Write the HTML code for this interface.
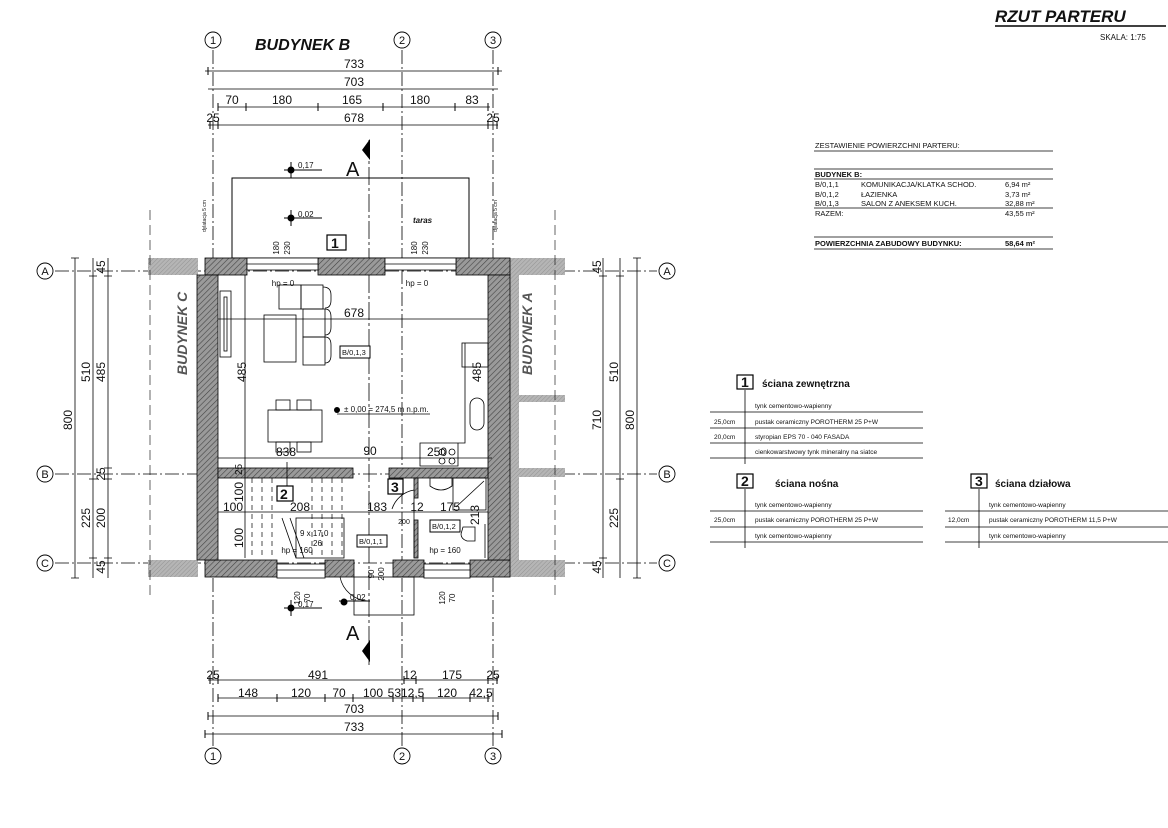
<!DOCTYPE html>
<html><head><meta charset="utf-8"><style>
html,body{margin:0;padding:0;background:#fff;width:1168px;height:828px;overflow:hidden}
svg{display:block}
text{font-family:"Liberation Sans",sans-serif;fill:#111}
</style></head><body>
<svg width="1168" height="828" viewBox="0 0 1168 828" xmlns="http://www.w3.org/2000/svg">
<defs>
<pattern id="h" width="4" height="4" patternUnits="userSpaceOnUse" patternTransform="rotate(45)">
<rect width="4" height="4" fill="#9a9a9a"/><line x1="0" y1="0" x2="0" y2="4" stroke="#444" stroke-width="1.2"/></pattern>
<pattern id="g" width="3" height="3" patternUnits="userSpaceOnUse" patternTransform="rotate(45)">
<rect width="3" height="3" fill="#b5b5b5"/><line x1="0" y1="0" x2="0" y2="3" stroke="#8a8a8a" stroke-width="0.8"/></pattern>
</defs>

<!-- titles -->
<text x="995" y="22" font-size="17" font-weight="bold" font-style="italic">RZUT PARTERU</text>
<line x1="995" y1="26" x2="1166" y2="26" stroke="#000" stroke-width="1.5"/>
<text x="1100" y="40" font-size="8">SKALA: 1:75</text>
<text x="255" y="50" font-size="16" font-weight="bold" font-style="italic">BUDYNEK B</text>

<!-- axis lines -->
<g stroke="#000" stroke-width="0.8" stroke-dasharray="14,3,2,3" fill="none">
<line x1="213" y1="50" x2="213" y2="746"/>
<line x1="402" y1="50" x2="402" y2="746"/>
<line x1="493" y1="50" x2="493" y2="746"/>
<line x1="55" y1="271" x2="657" y2="271"/>
<line x1="55" y1="474" x2="657" y2="474"/>
<line x1="55" y1="563" x2="657" y2="563"/>
<line x1="369" y1="140" x2="369" y2="665" stroke-dasharray="18,3,3,3"/>
</g>
<g fill="#fff" stroke="#000" stroke-width="0.9">
<circle cx="213" cy="40" r="8"/><circle cx="402" cy="40" r="8"/><circle cx="493" cy="40" r="8"/>
<circle cx="213" cy="756" r="8"/><circle cx="402" cy="756" r="8"/><circle cx="493" cy="756" r="8"/>
<circle cx="45" cy="271" r="8"/><circle cx="45" cy="474" r="8"/><circle cx="45" cy="563" r="8"/>
<circle cx="667" cy="271" r="8"/><circle cx="667" cy="474" r="8"/><circle cx="667" cy="563" r="8"/>
</g>
<g font-size="11" text-anchor="middle">
<text x="213" y="44">1</text><text x="402" y="44">2</text><text x="493" y="44">3</text>
<text x="213" y="760">1</text><text x="402" y="760">2</text><text x="493" y="760">3</text>
<text x="45" y="275">A</text><text x="45" y="478">B</text><text x="45" y="567">C</text>
<text x="667" y="275">A</text><text x="667" y="478">B</text><text x="667" y="567">C</text>
</g>

<!-- top dimensions -->
<g stroke="#000" stroke-width="0.8">
<line x1="205" y1="71" x2="502" y2="71"/>
<line x1="208" y1="89" x2="498" y2="89"/>
<line x1="218" y1="107" x2="490" y2="107"/>
<line x1="208" y1="125" x2="498" y2="125"/>
<line x1="208" y1="680" x2="498" y2="680"/>
<line x1="218" y1="698" x2="490" y2="698"/>
<line x1="208" y1="716" x2="498" y2="716"/>
<line x1="205" y1="734" x2="502" y2="734"/>
</g>
<g stroke="#000" stroke-width="1">
<path d="M208 67v8M498 67v8M218 103v8M246 103v8M318 103v8M383 103v8M455 103v8M488 103v8M210 121v8M218 121v8M488 121v8M497 121v8"/>
<path d="M210 676v8M218 676v8M404 676v8M416 676v8M488 676v8M497 676v8M218 694v8M277 694v8M325 694v8M353 694v8M393 694v8M413 694v8M423 694v8M470 694v8M488 694v8M208 712v8M498 712v8M205 730v8M502 730v8"/>
</g>
<g font-size="12" text-anchor="middle">
<text x="354" y="68">733</text><text x="354" y="86">703</text>
<text x="232" y="104">70</text><text x="282" y="104">180</text><text x="352" y="104">165</text><text x="420" y="104">180</text><text x="472" y="104">83</text>
<text x="213" y="122">25</text><text x="354" y="122">678</text><text x="493" y="122">25</text>
<text x="213" y="679">25</text><text x="318" y="679">491</text><text x="410" y="679">12</text><text x="452" y="679">175</text><text x="493" y="679">25</text>
<text x="248" y="697">148</text><text x="301" y="697">120</text><text x="339" y="697">70</text><text x="373" y="697">100</text><text x="406" y="697">5312,5</text><text x="447" y="697">120</text><text x="481" y="697">42,5</text>
<text x="354" y="713">703</text><text x="354" y="731">733</text>
</g>

<!-- side dimensions -->
<g stroke="#000" stroke-width="0.8">
<line x1="75" y1="258" x2="75" y2="578"/><line x1="93" y1="258" x2="93" y2="578"/><line x1="108" y1="258" x2="108" y2="578"/>
<line x1="603" y1="258" x2="603" y2="578"/><line x1="620" y1="258" x2="620" y2="578"/><line x1="637" y1="258" x2="637" y2="578"/>
<path d="M89 276h8M104 276h8M104 468h8M104 479h8M89 479h8M104 558h8M89 558h8M71 258h8M71 578h8M599 276h8M616 276h8M599 558h8M616 479h8M633 258h8M633 578h8"/>
</g>
<g font-size="12" text-anchor="middle">
<text transform="translate(72,420) rotate(-90)">800</text>
<text transform="translate(90,372) rotate(-90)">510</text>
<text transform="translate(105,372) rotate(-90)">485</text>
<text transform="translate(105,267) rotate(-90)">45</text>
<text transform="translate(105,474) rotate(-90)">25</text>
<text transform="translate(90,518) rotate(-90)">225</text>
<text transform="translate(105,518) rotate(-90)">200</text>
<text transform="translate(105,567) rotate(-90)">45</text>
<text transform="translate(601,267) rotate(-90)">45</text>
<text transform="translate(601,420) rotate(-90)">710</text>
<text transform="translate(618,372) rotate(-90)">510</text>
<text transform="translate(634,420) rotate(-90)">800</text>
<text transform="translate(618,518) rotate(-90)">225</text>
<text transform="translate(601,567) rotate(-90)">45</text>
</g>

<!-- terrace -->
<rect x="232" y="178" width="237" height="80" fill="none" stroke="#000" stroke-width="1"/>
<text x="413" y="223" font-size="8" font-style="italic" font-weight="bold">taras</text>
<g stroke="#000" stroke-width="1">
<line x1="284" y1="170" x2="322" y2="170"/><circle cx="291" cy="170" r="3" fill="#000"/><line x1="291" y1="162" x2="291" y2="178"/>
<line x1="284" y1="218" x2="322" y2="218"/><circle cx="291" cy="218" r="3" fill="#000"/><line x1="291" y1="210" x2="291" y2="226"/>
<line x1="284" y1="608" x2="322" y2="608"/><circle cx="291" cy="608" r="3" fill="#000"/><line x1="291" y1="600" x2="291" y2="616"/>
<line x1="339" y1="601" x2="370" y2="601"/><circle cx="344" cy="602" r="3" fill="#000"/>
</g>
<g font-size="8"><text x="298" y="168">0,17</text><text x="298" y="217">0,02</text><text x="298" y="607">0,17</text><text x="350" y="600">0,02</text></g>
<text x="346" y="176" font-size="20">A</text>
<path d="M370 139 L362 150 L370 160 Z" fill="#000"/>
<text x="346" y="640" font-size="20">A</text>
<path d="M370 640 L362 651 L370 662 Z" fill="#000"/>
<text transform="translate(206,232) rotate(-90)" font-size="5">dylatacja 5 cm</text>
<text transform="translate(497,232) rotate(-90)" font-size="5">dylatacja 5 cm</text>

<!-- neighbouring building walls -->
<rect x="148" y="258" width="50" height="17" fill="url(#g)"/>
<rect x="510" y="258" width="55" height="17" fill="url(#g)"/>
<rect x="148" y="560" width="50" height="17" fill="url(#g)"/>
<rect x="510" y="560" width="55" height="17" fill="url(#g)"/>
<rect x="197" y="275" width="0" height="1"/>
<rect x="510" y="275" width="9" height="285" fill="url(#g)"/>
<rect x="519" y="395" width="46" height="7" fill="url(#g)"/>
<rect x="519" y="468" width="46" height="9" fill="url(#g)"/>
<line x1="150" y1="210" x2="150" y2="600" stroke="#000" stroke-width="0.6" stroke-dasharray="10,5"/>
<line x1="555" y1="210" x2="555" y2="600" stroke="#000" stroke-width="0.6" stroke-dasharray="10,5"/>
<text transform="translate(187,375) rotate(-90)" font-size="14" font-weight="bold" font-style="italic" fill="#444" style="fill:#555">BUDYNEK C</text>
<text transform="translate(532,375) rotate(-90)" font-size="14" font-weight="bold" font-style="italic" style="fill:#555">BUDYNEK A</text>

<!-- main walls -->
<g fill="url(#h)" stroke="#000" stroke-width="0.8">
<rect x="205" y="258" width="42" height="17"/>
<rect x="318" y="258" width="67" height="17"/>
<rect x="456" y="258" width="54" height="17"/>
<rect x="205" y="560" width="72" height="17"/>
<rect x="325" y="560" width="29" height="17"/>
<rect x="393" y="560" width="31" height="17"/>
<rect x="470" y="560" width="40" height="17"/>
<rect x="197" y="275" width="21" height="285"/>
<rect x="488" y="275" width="22" height="285"/>
<rect x="218" y="468" width="135" height="10"/>
<rect x="389" y="468" width="99" height="10"/>
<rect x="414" y="478" width="4" height="20"/>
<rect x="414" y="520" width="4" height="38"/>
</g>
<!-- windows -->
<g fill="#fff" stroke="#000" stroke-width="0.8">
<rect x="247" y="258" width="71" height="12"/><line x1="247" y1="264" x2="318" y2="264"/>
<rect x="385" y="258" width="71" height="12"/><line x1="385" y1="264" x2="456" y2="264"/>
<rect x="277" y="564" width="48" height="14"/><line x1="277" y1="570" x2="325" y2="570"/>
<rect x="424" y="564" width="46" height="14"/><line x1="424" y1="570" x2="470" y2="570"/>
</g>
<g font-size="8" text-anchor="middle">
<text transform="translate(279,248) rotate(-90)">180</text><text transform="translate(290,248) rotate(-90)">230</text>
<text transform="translate(417,248) rotate(-90)">180</text><text transform="translate(428,248) rotate(-90)">230</text>
<text transform="translate(300,598) rotate(-90)">120</text><text transform="translate(310,598) rotate(-90)">70</text>
<text transform="translate(445,598) rotate(-90)">120</text><text transform="translate(455,598) rotate(-90)">70</text>
<text transform="translate(374,574) rotate(-90)">90</text><text transform="translate(384,574) rotate(-90)">200</text>
<text x="283" y="286">hp = 0</text><text x="417" y="286">hp = 0</text>
<text x="297" y="553">hp = 160</text><text x="445" y="553">hp = 160</text>
</g>
<rect x="327" y="235" width="19" height="15" fill="#fff" stroke="#000" stroke-width="1.2"/><text x="331" y="248" font-size="14" font-weight="bold">1</text>

<!-- entrance -->
<rect x="354" y="577" width="60" height="38" fill="none" stroke="#000" stroke-width="0.8"/>
<path d="M340 577 A 30 30 0 0 0 368 601" fill="none" stroke="#000" stroke-width="0.7"/>

<!-- interior dims -->
<g stroke="#000" stroke-width="0.8">
<line x1="218" y1="319" x2="488" y2="319"/>
<line x1="218" y1="458" x2="492" y2="458"/>
<line x1="218" y1="512" x2="488" y2="512"/>
<line x1="245" y1="275" x2="245" y2="558"/>
<line x1="287" y1="462" x2="287" y2="500"/>
</g>
<g font-size="12" text-anchor="middle">
<text x="354" y="317">678</text>
<text transform="translate(246,372) rotate(-90)">485</text>
<text transform="translate(481,372) rotate(-90)">485</text>
<text x="370" y="455">90</text><text x="286" y="456">838</text><text x="437" y="456">250</text>
<text transform="translate(243,492) rotate(-90)">100</text><text transform="translate(243,538) rotate(-90)">100</text>
<text x="233" y="511">100</text><text x="300" y="511">208</text><text x="377" y="511">183</text><text x="417" y="511">12</text><text x="450" y="511">175</text>
<text transform="translate(479,515) rotate(-90)">213</text>
</g>
<text x="404" y="524" font-size="7" text-anchor="middle">200</text>

<!-- furniture -->
<g fill="none" stroke="#000" stroke-width="0.8">
<rect x="220" y="291" width="11" height="66"/><rect x="224" y="297" width="3" height="54"/>
<rect x="264" y="315" width="32" height="47"/>
<rect x="279" y="285" width="22" height="24"/><rect x="301" y="285" width="22" height="24"/>
<rect x="303" y="309" width="22" height="28"/><rect x="303" y="337" width="22" height="28"/>
<path d="M323 287 q8 0 8 8 v5 q0 8 -6 8 M325 309 q6 0 6 8v10q0 8 -6 8 M325 337 q6 0 6 8v10q0 8 -6 8"/>
<rect x="268" y="410" width="54" height="32"/>
<rect x="276" y="400" width="14" height="10"/><rect x="297" y="400" width="14" height="10"/>
<rect x="276" y="442" width="14" height="10"/><rect x="297" y="442" width="14" height="10"/>
<rect x="462" y="343" width="26" height="24"/>
<path d="M465 343 V443 H420 V466 H458 V443"/>
<rect x="470" y="398" width="14" height="32" rx="7"/>
<circle cx="442" cy="452" r="3"/><circle cx="452" cy="452" r="3"/><circle cx="442" cy="461" r="3"/><circle cx="452" cy="461" r="3"/>
<path d="M430 478 h22 v8 q-11 8 -22 0z"/>
<rect x="453" y="478" width="33" height="32"/><line x1="456" y1="507" x2="484" y2="481"/>
<path d="M463 527 h12 v14 h-8 q-6 -2 -6 -7 z"/>
<path d="M392 509 A 28 28 0 0 1 414 490"/>
<path d="M414 558 V498"/>
<line x1="485" y1="524" x2="485" y2="558"/>
</g>
<g stroke="#000" stroke-width="0.7" stroke-dasharray="5,4">
<path d="M252 478v80M262 478v80M272 478v80M312 478v80M322 478v80M332 478v80M342 478v80"/>
</g>
<g fill="none" stroke="#000" stroke-width="0.8">
<rect x="296" y="518" width="48" height="40"/>
<line x1="282" y1="518" x2="296" y2="558"/><line x1="290" y1="518" x2="304" y2="558"/>
</g>
<g font-size="8">
<text x="300" y="536">9 x 17,0</text><text x="313" y="546">26</text>
</g>
<g font-size="7.5">
<rect x="340" y="346" width="30" height="12" fill="#fff" stroke="#000"/><text x="342" y="355">B/0,1,3</text>
<rect x="357" y="535" width="30" height="12" fill="#fff" stroke="#000"/><text x="359" y="544">B/0,1,1</text>
<rect x="430" y="520" width="30" height="12" fill="#fff" stroke="#000"/><text x="432" y="529">B/0,1,2</text>
</g>
<circle cx="337" cy="410" r="3" fill="#000"/><line x1="337" y1="414" x2="430" y2="414" stroke="#000" stroke-width="0.7"/>
<text x="344" y="412" font-size="8">± 0,00 = 274,5 m n.p.m.</text>
<rect x="277" y="486" width="16" height="15" fill="#fff" stroke="#000" stroke-width="1.2"/><text x="280" y="499" font-size="14" font-weight="bold">2</text>
<rect x="388" y="479" width="15" height="15" fill="#fff" stroke="#000" stroke-width="1.2"/><text x="391" y="492" font-size="14" font-weight="bold">3</text>
<text transform="translate(242,475) rotate(-90)" font-size="10">25</text>

<!-- area table -->
<g font-size="7.5">
<text x="815" y="148">ZESTAWIENIE POWIERZCHNI PARTERU:</text>
<line x1="814" y1="151" x2="1053" y2="151" stroke="#000" stroke-width="0.8"/>
<line x1="814" y1="169" x2="1053" y2="169" stroke="#000" stroke-width="0.8"/>
<text x="815" y="177" font-weight="bold">BUDYNEK B:</text>
<line x1="814" y1="179" x2="1053" y2="179" stroke="#000" stroke-width="0.8"/>
<text x="815" y="187">B/0,1,1</text><text x="861" y="187">KOMUNIKACJA/KLATKA SCHOD.</text><text x="1005" y="187">6,94 m²</text>
<text x="815" y="197">B/0,1,2</text><text x="861" y="197">ŁAZIENKA</text><text x="1005" y="197">3,73 m²</text>
<text x="815" y="206">B/0,1,3</text><text x="861" y="206">SALON Z ANEKSEM KUCH.</text><text x="1005" y="206">32,88 m²</text>
<line x1="814" y1="208" x2="1053" y2="208" stroke="#000" stroke-width="0.8"/>
<text x="815" y="216">RAZEM:</text><text x="1005" y="216">43,55 m²</text>
<line x1="814" y1="237" x2="1053" y2="237" stroke="#000" stroke-width="0.8"/>
<text x="815" y="246" font-weight="bold">POWIERZCHNIA ZABUDOWY BUDYNKU:</text><text x="1005" y="246" font-weight="bold">58,64 m²</text>
<line x1="814" y1="249" x2="1053" y2="249" stroke="#000" stroke-width="0.8"/>
</g>

<!-- wall legends -->
<g stroke="#000" stroke-width="0.8">
<line x1="745" y1="390" x2="745" y2="464"/>
<line x1="710" y1="412" x2="923" y2="412"/><line x1="710" y1="428" x2="923" y2="428"/><line x1="710" y1="443" x2="923" y2="443"/><line x1="710" y1="458" x2="923" y2="458"/>
<line x1="745" y1="489" x2="745" y2="548"/>
<line x1="710" y1="511" x2="923" y2="511"/><line x1="710" y1="527" x2="923" y2="527"/><line x1="710" y1="542" x2="923" y2="542"/>
<line x1="979" y1="489" x2="979" y2="548"/>
<line x1="945" y1="511" x2="1168" y2="511"/><line x1="945" y1="527" x2="1168" y2="527"/><line x1="945" y1="542" x2="1168" y2="542"/>
</g>
<g fill="#fff" stroke="#000" stroke-width="1.2">
<rect x="737" y="375" width="16" height="14"/><rect x="737" y="474" width="16" height="14"/><rect x="971" y="474" width="16" height="14"/>
</g>
<g font-size="14" font-weight="bold"><text x="741" y="387">1</text><text x="741" y="486">2</text><text x="975" y="486">3</text></g>
<g font-size="10" font-weight="bold"><text x="762" y="387">ściana zewnętrzna</text><text x="775" y="487">ściana nośna</text><text x="995" y="487">ściana działowa</text></g>
<g font-size="6.5">
<text x="755" y="408">tynk cementowo-wapienny</text>
<text x="714" y="424">25,0cm</text><text x="755" y="424">pustak ceramiczny POROTHERM 25 P+W</text>
<text x="714" y="439">20,0cm</text><text x="755" y="439">styropian  EPS 70 - 040 FASADA</text>
<text x="755" y="454">cienkowarstwowy tynk mineralny na siatce</text>
<text x="755" y="507">tynk cementowo-wapienny</text>
<text x="714" y="522">25,0cm</text><text x="755" y="522">pustak ceramiczny POROTHERM 25 P+W</text>
<text x="755" y="538">tynk cementowo-wapienny</text>
<text x="989" y="507">tynk cementowo-wapienny</text>
<text x="948" y="522">12,0cm</text><text x="989" y="522">pustak ceramiczny POROTHERM 11,5 P+W</text>
<text x="989" y="538">tynk cementowo-wapienny</text>
</g>
</svg>
</body></html>
